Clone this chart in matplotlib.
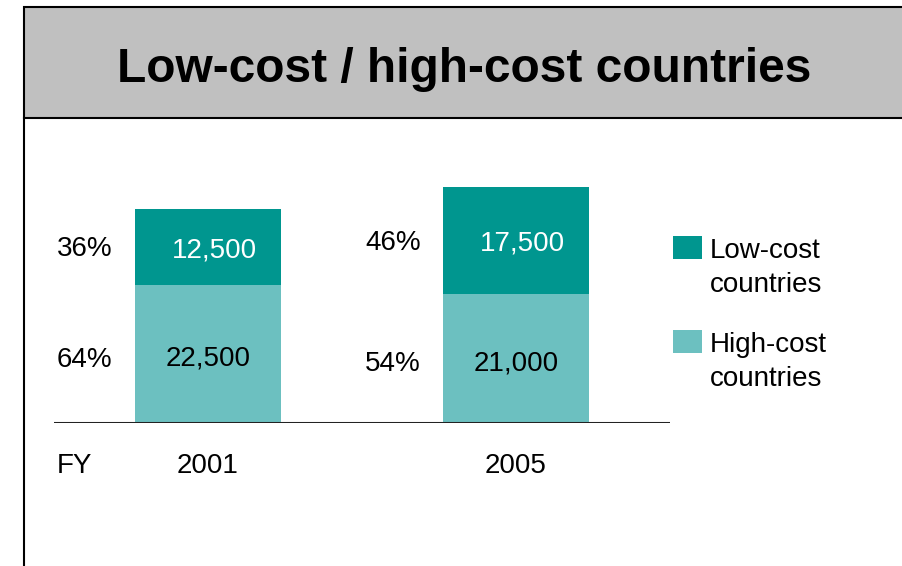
import matplotlib.pyplot as plt
from matplotlib.patches import Rectangle
from matplotlib.lines import Line2D

plt.rcParams['font.family'] = ['Liberation Sans', 'DejaVu Sans']

years = ['2001', '2005']
high_cost = [22500, 21000]
low_cost = [12500, 17500]
low_share = ['36%', '46%']
high_share = ['64%', '54%']
series_names = ['Low-cost\ncountries', 'High-cost\ncountries']

dark_teal = '#00968f'
light_teal = '#6cc0c0'

W, H = 903, 566
fig = plt.figure(figsize=(W / 100, H / 100), dpi=100)


def fx(px):
    return px / W


def fy(py):
    # pixel row from the top -> figure fraction
    return 1 - py / H


# title banner
fig.add_artist(Rectangle((fx(24), fy(118)), fx(900), fy(7) - fy(118),
                         transform=fig.transFigure, facecolor='#c0c0c0',
                         edgecolor='black', linewidth=1.5))
fig.add_artist(Line2D([fx(24), fx(24)], [fy(118), 0], transform=fig.transFigure,
                      color='black', linewidth=1.5))
fig.text(fx(464), fy(70), 'Low-cost / high-cost countries', ha='center', va='center',
         fontsize=34.5, fontweight='bold')

# plot area
ax = fig.add_axes([fx(54), fy(423), fx(670) - fx(54), fy(150) - fy(423)])
ax.set_xlim(-0.5, 1.5)
ax.set_ylim(0, 273 / 0.00612)
ax.axis('off')

x = list(range(len(years)))
ax.bar(x, high_cost, width=0.477, color=light_teal)
ax.bar(x, low_cost, width=0.477, bottom=high_cost, color=dark_teal)
ax.axhline(0, color='#222222', linewidth=2.2)

for i in x:
    hi = high_cost[i]
    lo = low_cost[i]
    ax.text(i, hi / 2 - 700, f'{hi:,}', ha='center', va='center', fontsize=20, color='black')
    ax.text(i + 0.02, hi + lo / 2 - 500, f'{lo:,}', ha='center', va='center', fontsize=20,
            color='white')
    ax.text(i - 0.40, hi / 2 - 900, high_share[i], ha='center', va='center', fontsize=20)
    ax.text(i - 0.40, hi + lo / 2 - 300, low_share[i], ha='center', va='center', fontsize=20)
    ax.text(i, -7100, years[i], ha='center', va='center', fontsize=20)

ax.text(-0.49, -7100, 'FY', ha='left', va='center', fontsize=20)

# legend
for k, (name, col) in enumerate(zip(series_names, [dark_teal, light_teal])):
    top = 236 + k * 94
    fig.add_artist(Rectangle((fx(673), fy(top + 23)), fx(29), fy(top) - fy(top + 23),
                             transform=fig.transFigure, facecolor=col, edgecolor='none'))
    fig.text(fx(710), fy(top + 2), name, ha='left', va='top', fontsize=20,
             linespacing=1.42)

fig.savefig('out.png', dpi=100)
